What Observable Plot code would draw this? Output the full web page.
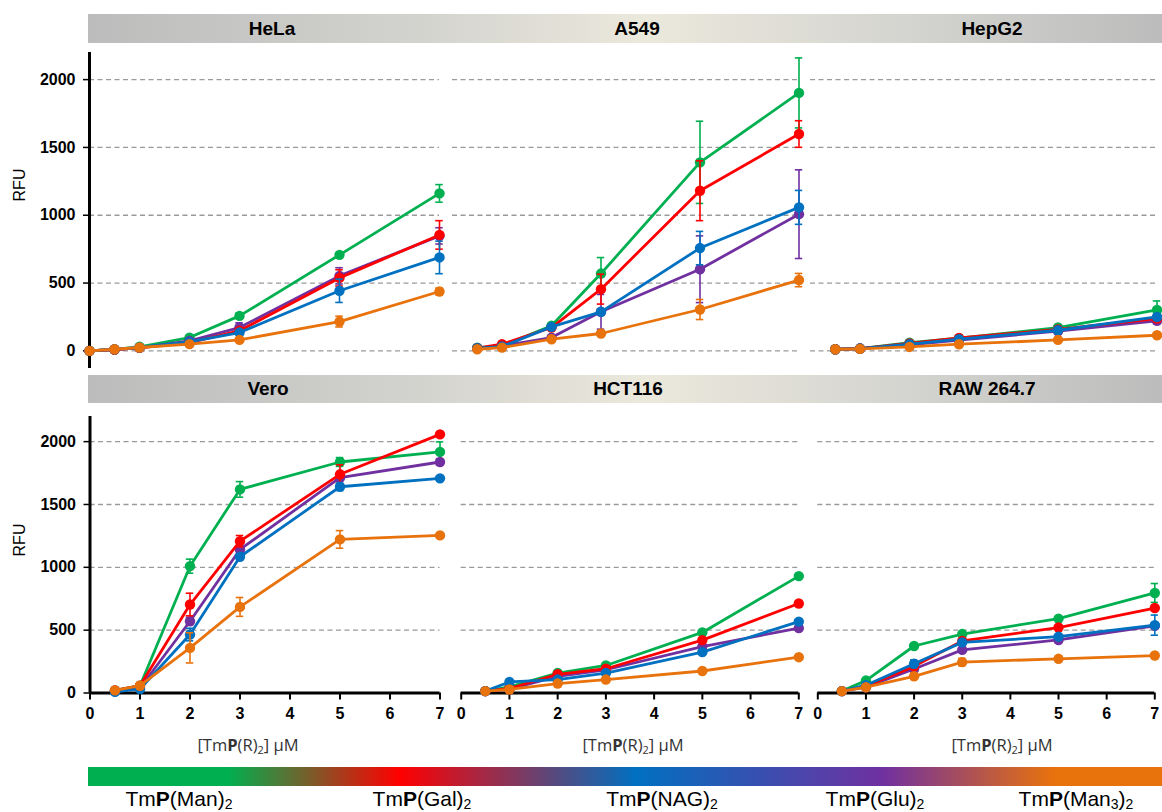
<!DOCTYPE html>
<html>
<head>
<meta charset="utf-8">
<script src="https://cdn.jsdelivr.net/npm/d3@7"></script>
<script src="https://cdn.jsdelivr.net/npm/@observablehq/plot@0.6"></script>
<style>
  body { margin: 0; background: #fff; }
  #root { position: relative; width: 1162px; height: 812px; overflow: hidden; font-family: "Liberation Sans", Arial, sans-serif; background: #fff; }
  .abs { position: absolute; }
  .strip { position: absolute; left: 88px; width: 1074px; height: 29px;
    background: linear-gradient(to right, #bcbcbc 0%, #d2d2ce 30%, #ebe8dc 52%, #d4d4d0 76%, #bcbcbc 100%); }
  .stripLabel { position: absolute; font-weight: bold; font-size: 19px; color: #000; transform: translateX(-50%); white-space: nowrap; line-height: 29px; }
  .rfu { position: absolute; font-size: 16px; color: #000; transform: translate(-50%,-50%) rotate(-90deg); white-space: nowrap; }
  .xlab { position: absolute; font-family: "Open Sans", "Noto Sans", sans-serif; font-size: 16.5px; color: #333; transform: translate(-50%,-50%); white-space: nowrap; }
  .xlab sub { font-size: 11px; vertical-align: -3px; line-height: 0; }
  .legbar { position: absolute; left: 88px; top: 767px; width: 1074px; height: 19px; }
  .leglab { position: absolute; top: 788px; font-family: "Liberation Sans", Arial, sans-serif; font-size: 21px; line-height: 21px; color: #000; transform: translateX(-50%); white-space: nowrap; }
  .leglab sub { font-size: 14px; vertical-align: -3px; line-height: 0; }
</style>
</head>
<body>
<div id="root"></div>
<script>
// ---------------- data ----------------
const series = ["Man", "Gal", "NAG", "Glu", "Man3"];
const seriesColors = ["#00b050", "#ff0000", "#0070c0", "#7030a0", "#e8720c"];
const cellLines = ["HeLa", "A549", "HepG2", "Vero", "HCT116", "RAW 264.7"];
const dosesHeLa = [0, 0.5, 1, 2, 3, 5, 7];
const doses = [0.5, 1, 2, 3, 5, 7];
const yTicks = [0, 500, 1000, 1500, 2000];
const xTicks = [0, 1, 2, 3, 4, 5, 6, 7];

// rows: Man, Gal, NAG, Glu, Man3
const helaRFU = [
  [0, 10, 30, 98, 258, 708, 1161],
  [0, 10, 22, 61, 148, 538, 855],
  [0, 12, 25, 66, 135, 443, 689],
  [0, 10, 22, 74, 172, 553, 848],
  [0, 12, 25, 50, 81, 216, 438]
];
const helaErr = [
  [0, 0, 5, 10, 20, 15, 65],
  [0, 0, 0, 15, 15, 60, 105],
  [0, 0, 0, 10, 15, 86, 120],
  [0, 0, 0, 10, 35, 60, 60],
  [0, 0, 0, 10, 10, 40, 25]
];
const a549RFU = [
  [24, 37, 185, 570, 1390, 1902],
  [20, 49, 172, 455, 1181, 1599],
  [20, 32, 177, 288, 758, 1058],
  [20, 37, 98, 288, 602, 1008],
  [12, 24, 86, 128, 305, 522]
];
const a549Err = [
  [0, 0, 15, 118, 303, 258],
  [0, 0, 10, 110, 221, 98],
  [0, 0, 10, 20, 123, 125],
  [0, 0, 10, 128, 246, 327],
  [0, 0, 10, 10, 74, 49]
];
const hepg2RFU = [
  [12, 17, 61, 93, 172, 302],
  [12, 17, 55, 95, 158, 238],
  [12, 17, 49, 86, 152, 250],
  [12, 17, 45, 80, 145, 221],
  [12, 15, 29, 49, 81, 115]
];
const hepg2Err = [
  [0, 0, 0, 0, 10, 66],
  [0, 0, 0, 0, 10, 20],
  [0, 0, 0, 0, 10, 20],
  [0, 0, 0, 0, 10, 20],
  [0, 0, 0, 0, 5, 10]
];
const veroRFU = [
  [21, 58, 1009, 1620, 1838, 1918],
  [21, 58, 704, 1208, 1740, 2058],
  [10, 32, 465, 1084, 1641, 1708],
  [13, 40, 571, 1142, 1713, 1838],
  [21, 58, 359, 685, 1222, 1254]
];
const veroErr = [
  [0, 0, 56, 62, 35, 80],
  [0, 0, 90, 45, 75, 10],
  [0, 0, 50, 20, 30, 15],
  [0, 0, 30, 20, 20, 25],
  [0, 0, 120, 75, 70, 10]
];
const hct116RFU = [
  [15, 49, 159, 219, 482, 930],
  [15, 36, 149, 193, 421, 712],
  [15, 88, 107, 159, 325, 568],
  [15, 30, 133, 185, 369, 516],
  [15, 28, 75, 107, 175, 285]
];
const hct116Err = [
  [0, 0, 10, 10, 15, 15],
  [0, 0, 10, 10, 15, 15],
  [0, 10, 10, 10, 15, 15],
  [0, 0, 10, 10, 15, 15],
  [0, 0, 10, 10, 10, 10]
];
const rawRFU = [
  [15, 99, 374, 469, 592, 796],
  [15, 54, 212, 414, 521, 676],
  [15, 62, 233, 403, 448, 540],
  [15, 46, 191, 343, 422, 535],
  [15, 46, 133, 246, 272, 298]
];
const rawErr = [
  [0, 10, 15, 15, 15, 75],
  [0, 0, 15, 15, 15, 20],
  [0, 0, 30, 15, 15, 80],
  [0, 0, 15, 15, 20, 15],
  [0, 0, 25, 30, 10, 15]
];

const panelDoses = [dosesHeLa, doses, doses, doses, doses, doses];
const panelRFU = [helaRFU, a549RFU, hepg2RFU, veroRFU, hct116RFU, rawRFU];
const panelErr = [helaErr, a549Err, hepg2Err, veroErr, hct116Err, rawErr];

// ---------------- layout ----------------
const layout = [
  {row: 0, col: 0, left: 0,   width: 450, ml: 89,   mr: 11},
  {row: 0, col: 1, left: 450, width: 360, ml: 2,    mr: 11.5},
  {row: 0, col: 2, left: 808, width: 354, ml: 2,    mr: 5.5},
  {row: 1, col: 0, left: 0,   width: 450, ml: 89.5, mr: 10.5},
  {row: 1, col: 1, left: 450, width: 360, ml: 10.7, mr: 11.7},
  {row: 1, col: 2, left: 808, width: 354, ml: 9.3,  mr: 7.7}
];
const rows = [
  {top: 44,  height: 329, mt: 8,  mb: 5,    yDomain: [-130, 2200]},
  {top: 404, height: 356, mt: 12, mb: 67.5, yDomain: [0, 2200]}
];
const drawOrder = [0, 3, 1, 2, 4];
const stripCenters = [272, 637, 992, 268, 628, 987];
const xLabelCenters = [248, 633, 1002];
const legendCenters = [179, 422, 662, 875, 1076];

const root = document.getElementById("root");

// strips
[14, 375].forEach((t, r) => {
  const s = document.createElement("div");
  s.className = "strip";
  s.style.top = t + "px";
  s.style.height = (r === 0 ? 29 : 28) + "px";
  root.appendChild(s);
});
cellLines.forEach((name, i) => {
  const l = document.createElement("div");
  l.className = "stripLabel";
  l.textContent = name;
  l.style.left = stripCenters[i] + "px";
  l.style.top = (i < 3 ? 14 : 375) + "px";
  l.style.lineHeight = (i < 3 ? 29 : 28) + "px";
  root.appendChild(l);
});

const font = "Liberation Sans, Arial, sans-serif";

layout.forEach((L, p) => {
  const R = rows[L.row];
  const xs = panelDoses[p];
  const data = [];
  drawOrder.forEach(si => {
    xs.forEach((x, j) => {
      data.push({s: series[si], x, y: panelRFU[p][si][j], e: panelErr[p][si][j]});
    });
  });
  const left = L.col === 0;
  const bottom = L.row === 1;
  const marks = [];
  marks.push(Plot.ruleY(bottom ? yTicks.slice(1) : yTicks, {stroke: "#9a9a9a", strokeWidth: 1.3, strokeDasharray: "5,3.5"}));
  if (left) {
    marks.push(Plot.axisY({ticks: yTicks, tickSize: 6, tickPadding: 8, fontSize: 16, fontWeight: "bold", stroke: "black", strokeWidth: 1.5, label: null, fill: "black", tickFormat: d => String(d)}));
    marks.push(Plot.ruleX([0], {stroke: "black", strokeWidth: 3}));
  }
  if (bottom) {
    marks.push(Plot.axisX({ticks: xTicks, tickSize: 7, tickPadding: 8, fontSize: 16, fontWeight: "bold", stroke: "black", strokeWidth: 2, label: null, fill: "black", tickFormat: d => String(d)}));
    marks.push(Plot.ruleY([0], {stroke: "black", strokeWidth: 3}));
  }
  drawOrder.forEach(si => {
    const sd = data.filter(d => d.s === series[si]);
    const er = sd.filter(d => d.e > 0);
    marks.push(Plot.ruleX(er, {x: "x", y1: d => d.y - d.e, y2: d => d.y + d.e, stroke: "s", strokeWidth: 1.6}));
    marks.push(Plot.ruleY(er, {y: d => d.y + d.e, x1: d => d.x - 0.075, x2: d => d.x + 0.075, stroke: "s", strokeWidth: 1.6}));
    marks.push(Plot.ruleY(er, {y: d => d.y - d.e, x1: d => d.x - 0.075, x2: d => d.x + 0.075, stroke: "s", strokeWidth: 1.6}));
    marks.push(Plot.line(sd, {x: "x", y: "y", stroke: "s", strokeWidth: 2.8}));
    marks.push(Plot.dot(sd, {x: "x", y: "y", fill: "s", r: 5.2}));
  });
  const chart = Plot.plot({
    width: L.width,
    height: R.height,
    marginLeft: L.ml,
    marginRight: L.mr,
    marginTop: R.mt,
    marginBottom: R.mb,
    style: {overflow: "visible", background: "transparent", color: "black", fontFamily: font},
    x: {domain: [0, 7], axis: null},
    y: {domain: R.yDomain, axis: null},
    color: {domain: series, range: seriesColors},
    marks
  });
  const wrap = document.createElement("div");
  wrap.className = "abs";
  wrap.style.left = L.left + "px";
  wrap.style.top = R.top + "px";
  wrap.appendChild(chart);
  root.appendChild(wrap);
});

// RFU labels
[185, 540].forEach(cy => {
  const r = document.createElement("div");
  r.className = "rfu";
  r.textContent = "RFU";
  r.style.left = "20px";
  r.style.top = cy + "px";
  root.appendChild(r);
});

// x labels
xLabelCenters.forEach(cx => {
  const d = document.createElement("div");
  d.className = "xlab";
  d.innerHTML = "[Tm<b>P</b>(R)<sub>2</sub>] μM";
  d.style.left = cx + "px";
  d.style.top = "744px";
  root.appendChild(d);
});

// legend gradient bar
const stops = [0, 0.13, 0.29, 0.51, 0.74, 0.9];
const stopColors = [seriesColors[0], seriesColors[0], seriesColors[1], seriesColors[2], seriesColors[3], seriesColors[4]];
const bar = document.createElement("div");
bar.className = "legbar";
bar.style.background = "linear-gradient(to right, " + stops.map((s, i) => stopColors[i] + " " + (s * 100) + "%").join(", ") + ", " + seriesColors[4] + " 100%)";
root.appendChild(bar);

series.forEach((s, i) => {
  const d = document.createElement("div");
  d.className = "leglab";
  const name = s.replace(/(\d)$/, "<sub>$1</sub>");
  d.innerHTML = "Tm<b>P</b>(" + name + ")<sub>2</sub>";
  d.style.left = legendCenters[i] + "px";
  root.appendChild(d);
});
</script>
</body>
</html>
